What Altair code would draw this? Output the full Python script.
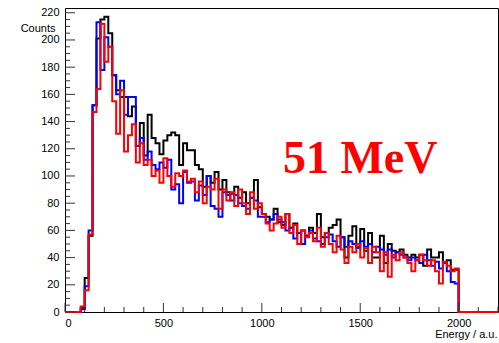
import altair as alt
import pandas as pd

# bin starts 80..1980, width 20
bin_start = list(range(80, 2000, 20))

black = [3, 25, 56, 152, 201, 215, 217, 205, 174, 163, 158, 158, 144, 151, 122, 139,
         115, 145, 128, 124, 116, 126, 130, 132, 130, 108, 124, 119, 119, 108, 105, 92,
         100, 95, 103, 90, 97, 88, 87, 92, 84, 88, 80, 84, 97, 77, 72, 70,
         68, 76, 66, 64, 72, 62, 65, 58, 60, 56, 62, 58, 72, 55, 58, 62,
         64, 68, 55, 40, 56, 63, 48, 61, 45, 58, 40, 40, 56, 36, 50, 45,
         44, 46, 42, 40, 42, 40, 42, 34, 46, 40, 40, 44, 36, 38, 31, 31]

blue = [2, 19, 60, 152, 213, 178, 202, 195, 174, 160, 170, 145, 158, 158, 122, 128,
        112, 118, 108, 105, 110, 106, 112, 90, 94, 80, 103, 95, 96, 82, 93, 86,
        100, 78, 76, 70, 88, 86, 82, 86, 80, 78, 76, 84, 82, 70, 70, 66,
        68, 72, 68, 66, 60, 62, 54, 58, 50, 56, 60, 54, 52, 50, 55, 57,
        52, 48, 55, 48, 52, 50, 47, 52, 48, 50, 44, 48, 46, 42, 46, 40,
        44, 42, 40, 38, 40, 38, 36, 42, 38, 34, 37, 32, 36, 30, 22, 21]

red = [4, 16, 57, 147, 164, 212, 184, 195, 155, 131, 163, 118, 130, 138, 110, 124,
       108, 112, 100, 104, 95, 113, 100, 92, 102, 100, 104, 96, 98, 88, 96, 80,
       92, 90, 98, 76, 90, 82, 88, 78, 90, 80, 72, 88, 76, 80, 72, 65,
       60, 65, 70, 62, 72, 58, 64, 50, 60, 55, 58, 52, 62, 48, 58, 50,
       44, 56, 46, 36, 48, 44, 50, 40, 47, 36, 48, 44, 30, 44, 26, 42,
       38, 44, 40, 36, 30, 38, 42, 38, 34, 38, 30, 21, 37, 34, 30, 32]

x_ticks_major = [0, 500, 1000, 1500, 2000]
x_ticks_minor = [v for v in range(0, 2201, 100) if v not in x_ticks_major]
y_ticks_major = list(range(0, 221, 20))
y_ticks_minor = [v for v in range(0, 221, 5) if v not in y_ticks_major]

W, H = 433, 304
XMAX, YMAX = 2200, 223.5


def steps(vals):
    xs = [0] + bin_start + [2000, XMAX]
    ys = [0] + list(vals) + [0, 0]
    return pd.DataFrame({"x": xs, "y": ys})


xsc = alt.Scale(domain=[0, XMAX], nice=False, zero=False)
ysc = alt.Scale(domain=[0, YMAX], nice=False)

font = "Liberation Sans"

AX = alt.Axis(values=x_ticks_major, format="d", ticks=False, grid=False, domain=False,
              labelFont=font, labelFontSize=11, labelColor="#000",
              labelPadding=5, title="Energy / a.u.", titleFont=font,
              titleFontSize=11, titleFontWeight="normal", titleAlign="right",
              titleAnchor="end", titleX=W - 1, titleY=25, titleColor="#000",
              titleBaseline="alphabetic")
AY = alt.Axis(values=y_ticks_major, format="d", ticks=False, grid=False, domain=False,
              labelFont=font, labelFontSize=11, labelColor="#000",
              labelPadding=6, title="Counts", titleFont=font,
              titleFontSize=11, titleFontWeight="normal", titleAngle=0,
              titleAlign="right", titleX=-10, titleY=23, titleColor="#000",
              titleBaseline="alphabetic")


def X(f):
    return alt.X(f, scale=xsc, axis=AX)


def Y(f):
    return alt.Y(f, scale=ysc, axis=AY)


def hist(vals, color):
    return alt.Chart(steps(vals)).mark_line(
        interpolate="step-after", color=color, strokeWidth=2
    ).encode(x=X("x:Q"), y=Y("y:Q"))


ytm = alt.Chart(pd.DataFrame({"y": y_ticks_major})).mark_rule(color="#333", strokeWidth=1).encode(
    y=Y("y:Q"), x=alt.value(0), x2=alt.value(10))
ytn = alt.Chart(pd.DataFrame({"y": y_ticks_minor})).mark_rule(color="#333", strokeWidth=1).encode(
    y=Y("y:Q"), x=alt.value(0), x2=alt.value(5))
xtm = alt.Chart(pd.DataFrame({"x": x_ticks_major})).mark_rule(color="#333", strokeWidth=1).encode(
    x=X("x:Q"), y=alt.value(H), y2=alt.value(H - 9))
xtn = alt.Chart(pd.DataFrame({"x": x_ticks_minor})).mark_rule(color="#333", strokeWidth=1).encode(
    x=X("x:Q"), y=alt.value(H), y2=alt.value(H - 5))

label = alt.Chart(pd.DataFrame({"x": [1500], "y": [102], "t": ["51 MeV"]})).mark_text(
    font="Liberation Serif", fontSize=46, fontWeight="bold", color="#ff0000",
    align="center", baseline="alphabetic"
).encode(x=X("x:Q"), y=Y("y:Q"), text="t:N")

chart = alt.layer(
    hist(black, "#000000"),
    hist(blue, "#0000ff"),
    hist(red, "#ff0000"),
    ytm, ytn, xtm, xtn, label
).properties(
    width=W, height=H,
    autosize=alt.AutoSizeParams(type="none"),
    padding={"left": 65, "top": 8, "right": 1, "bottom": 31},
    background="white"
).configure_view(stroke="#000", strokeWidth=1)

chart.save("out.html", embed_options={"renderer": "svg", "actions": False})
